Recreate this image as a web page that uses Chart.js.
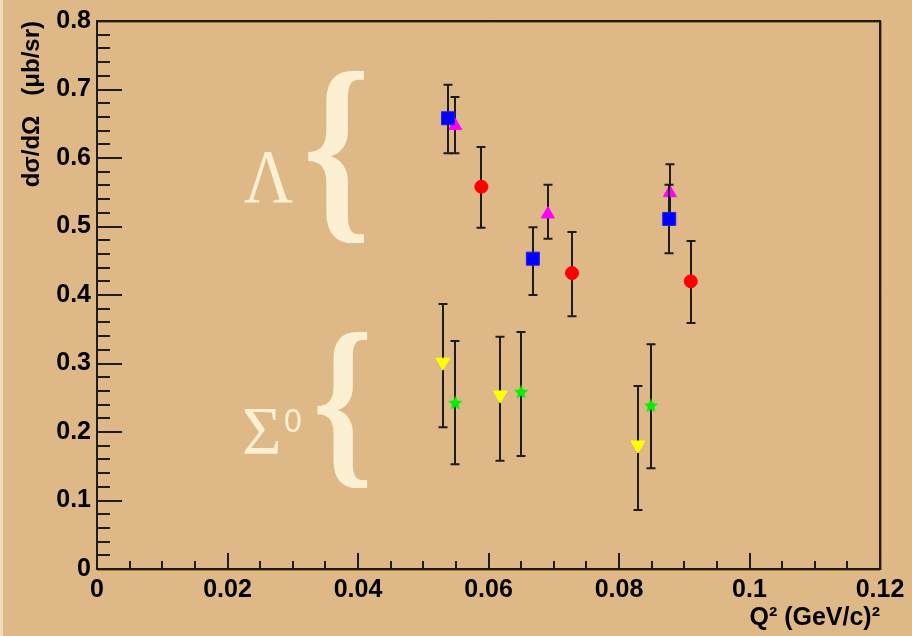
<!DOCTYPE html>
<html><head><meta charset="utf-8">
<script src="https://cdn.jsdelivr.net/npm/chart.js@4/dist/chart.umd.min.js"></script>
<style>
html,body{margin:0;padding:0;background:#DEB887;}
#wrap{position:relative;width:912px;height:636px;overflow:hidden;}
#strip{position:absolute;left:0;top:0;width:3px;height:636px;background:#EEDCC2;}
</style></head><body>
<div id="wrap"><canvas id="c" width="912" height="636"></canvas><div id="strip"></div></div>
<script>
// ---- tick labels / titles ----
const xTickLabels = ['0', '0.02', '0.04', '0.06', '0.08', '0.1', '0.12'];
const yTickLabels = ['0', '0.1', '0.2', '0.3', '0.4', '0.5', '0.6', '0.7', '0.8'];
const xTitle = 'Q\u00B2 (GeV/c)\u00B2';
const yTitle = 'd\u03C3/d\u03A9   (\u03BCb/sr)';

// ---- Lambda: blue squares ----
const lamBlueX  = [0.0538, 0.0668, 0.0877];
const lamBlueY  = [0.658, 0.453, 0.511];
const lamBlueLo = [0.607, 0.400, 0.461];
const lamBlueHi = [0.707, 0.499, 0.561];
// ---- Lambda: magenta triangles ----
const lamMagX  = [0.0549, 0.0691, 0.0878];
const lamMagY  = [0.647, 0.518, 0.549];
const lamMagLo = [0.607, 0.482, 0.512];
const lamMagHi = [0.689, 0.561, 0.591];
// ---- Lambda: red circles ----
const lamRedX  = [0.0589, 0.0728, 0.0910];
const lamRedY  = [0.558, 0.432, 0.420];
const lamRedLo = [0.498, 0.369, 0.359];
const lamRedHi = [0.616, 0.492, 0.479];
// ---- Sigma0: yellow down triangles ----
const sigYelX  = [0.0530, 0.0618, 0.0829];
const sigYelY  = [0.302, 0.254, 0.181];
const sigYelLo = [0.207, 0.158, 0.086];
const sigYelHi = [0.387, 0.339, 0.267];
// ---- Sigma0: green stars ----
const sigGrnX  = [0.0549, 0.0650, 0.0849];
const sigGrnY  = [0.242, 0.258, 0.238];
const sigGrnLo = [0.153, 0.165, 0.147];
const sigGrnHi = [0.333, 0.346, 0.328];

// ---- annotation labels ----
const annotTexts = ['\u039B', '{', '\u03A3', '0', '{'];

function pts(xs, ys) { return xs.map((x, i) => ({x: x, y: ys[i]})); }

function makeStar(color, R, r) {
  const c = document.createElement('canvas');
  const s = Math.ceil(2 * R) + 2;
  c.width = c.height = s;
  const g = c.getContext('2d');
  g.fillStyle = color;
  g.beginPath();
  for (let i = 0; i < 10; i++) {
    const a = -Math.PI / 2 + i * Math.PI / 5;
    const rad = (i % 2) ? r : R;
    g.lineTo(s / 2 + rad * Math.cos(a), s / 2 + rad * Math.sin(a));
  }
  g.closePath(); g.fill();
  return c;
}

const FONT = '"Liberation Sans", Arial, sans-serif';
const INK = '#1c1c1c';

function fitText(ctx, t, font, x0, x1, y0, y1) {
  ctx.font = font;
  const m = ctx.measureText(t);
  const gw = m.actualBoundingBoxLeft + m.actualBoundingBoxRight;
  const gh = m.actualBoundingBoxAscent + m.actualBoundingBoxDescent;
  ctx.save();
  ctx.translate(x0, y0);
  ctx.scale((x1 - x0) / gw, (y1 - y0) / gh);
  ctx.textAlign = 'left'; ctx.textBaseline = 'alphabetic';
  ctx.fillText(t, m.actualBoundingBoxLeft, m.actualBoundingBoxAscent);
  ctx.restore();
}

const errorBars = {
  id: 'errorBars',
  beforeDatasetDraw(chart, args) {
    const ds = chart.data.datasets[args.index];
    if (!ds.errLo) return;
    const {ctx, scales: {x, y}} = chart;
    ctx.save();
    ctx.strokeStyle = INK; ctx.lineWidth = 2;
    ds.data.forEach((p, i) => {
      const px = Math.round(x.getPixelForValue(p.x));
      const y0 = y.getPixelForValue(ds.errLo[i]);
      const y1 = y.getPixelForValue(ds.errHi[i]);
      ctx.beginPath();
      ctx.moveTo(px, y0); ctx.lineTo(px, y1);
      ctx.moveTo(px - 4.5, y0); ctx.lineTo(px + 4.5, y0);
      ctx.moveTo(px - 4.5, y1); ctx.lineTo(px + 4.5, y1);
      ctx.stroke();
    });
    ctx.restore();
  }
};

const frameTicks = {
  id: 'frameTicks',
  afterDraw(chart) {
    const {ctx, chartArea: a, scales: {x, y}} = chart;
    ctx.save();
    ctx.strokeStyle = '#A87A3A'; ctx.lineWidth = 1;
    ctx.beginPath();
    ctx.moveTo(a.left, a.top + 1.5); ctx.lineTo(a.right, a.top + 1.5);
    ctx.moveTo(a.right + 1.5, a.top); ctx.lineTo(a.right + 1.5, a.bottom + 1);
    ctx.moveTo(a.left, a.bottom + 1.5); ctx.lineTo(a.right, a.bottom + 1.5);
    ctx.stroke();
    ctx.strokeStyle = INK; ctx.lineWidth = 2;
    ctx.beginPath();
    ctx.rect(a.left, a.top, a.right - a.left, a.bottom - a.top);
    ctx.stroke();
    ctx.beginPath();
    for (let k = 0; k <= 40; k++) {
      const py = Math.round(y.getPixelForValue(k * 0.02));
      const len = (k % 5 === 0) ? 25 : 13;
      ctx.moveTo(a.left, py); ctx.lineTo(a.left + len, py);
    }
    for (let k = 0; k <= 24; k++) {
      const px = Math.round(x.getPixelForValue(k * 0.005));
      const len = (k % 4 === 0) ? 16 : 8;
      ctx.moveTo(px, a.bottom); ctx.lineTo(px, a.bottom - len);
    }
    ctx.stroke();
    ctx.restore();
  }
};

const annotations = {
  id: 'annotations',
  afterDatasetsDraw(chart) {
    const {ctx, scales: {x, y}} = chart;
    const boxes = [
      {font: '80px "Liberation Serif", serif', xr: [0.02253, 0.03004], yr: [0.6102, 0.5358]},
      {font: 'bold 200px "Liberation Serif", serif', xr: [0.03234, 0.04092], yr: [0.7255, 0.4759]},
      {font: '66px "Liberation Serif", serif', xr: [0.02253, 0.02789], yr: [0.2336, 0.1693]},
      {font: '30px "Liberation Sans", sans-serif', xr: [0.02881, 0.03126], yr: [0.2321, 0.2000]},
      {font: 'bold 200px "Liberation Serif", serif', xr: [0.03372, 0.04138], yr: [0.3445, 0.1182]}
    ];
    ctx.save();
    ctx.fillStyle = '#FCF0D3';
    annotTexts.forEach((t, i) => {
      const b = boxes[i];
      fitText(ctx, t, b.font, x.getPixelForValue(b.xr[0]), x.getPixelForValue(b.xr[1]),
              y.getPixelForValue(b.yr[0]), y.getPixelForValue(b.yr[1]));
    });
    ctx.restore();
  }
};

const starImg = makeStar('#00F000', 7.5, 3.4);

new Chart(document.getElementById('c'), {
  type: 'scatter',
  data: {
    datasets: [
      {label: 'blue', data: pts(lamBlueX, lamBlueY), errLo: lamBlueLo, errHi: lamBlueHi,
       pointStyle: 'rect', pointRadius: 9.2, backgroundColor: '#0000FF', borderColor: '#2020E0', borderWidth: 1},
      {label: 'magenta', data: pts(lamMagX, lamMagY), errLo: lamMagLo, errHi: lamMagHi,
       pointStyle: 'triangle', pointRadius: 7.5, backgroundColor: '#FF00FF', borderColor: '#FF00FF', borderWidth: 1},
      {label: 'red', data: pts(lamRedX, lamRedY), errLo: lamRedLo, errHi: lamRedHi,
       pointStyle: 'circle', pointRadius: 6.5, backgroundColor: '#FF0000', borderColor: '#FF0000', borderWidth: 1},
      {label: 'yellow', data: pts(sigYelX, sigYelY), errLo: sigYelLo, errHi: sigYelHi,
       pointStyle: 'triangle', rotation: 180, pointRadius: 8, backgroundColor: '#FFFF00', borderColor: '#FFFF00', borderWidth: 1},
      {label: 'green', data: pts(sigGrnX, sigGrnY), errLo: sigGrnLo, errHi: sigGrnHi,
       pointStyle: starImg, pointRadius: 7, backgroundColor: '#00F000', borderColor: '#00F000'}
    ]
  },
  options: {
    responsive: false,
    animation: false,
    devicePixelRatio: 1,
    layout: {padding: {top: 21, right: 32, left: 0, bottom: 0}},
    plugins: {legend: {display: false}, tooltip: {enabled: false}},
    scales: {
      x: {
        type: 'linear', min: 0, max: 0.12,
        grid: {display: false, drawTicks: false},
        border: {display: false},
        afterFit: s => { s.height = 67; },
        ticks: {stepSize: 0.02, autoSkip: false, maxRotation: 0, padding: 6, color: '#000',
                font: {family: FONT, weight: 'bold', size: 25},
                callback: v => xTickLabels[Math.round(v / 0.02)]},
        title: {display: true, text: xTitle, align: 'end', color: '#000',
                font: {family: FONT, weight: 'bold', size: 25}, padding: {top: 0, bottom: 3}}
      },
      y: {
        type: 'linear', min: 0, max: 0.8,
        grid: {display: false, drawTicks: false},
        border: {display: false},
        afterFit: s => { s.width = 97; },
        ticks: {stepSize: 0.1, padding: 6, color: '#000',
                font: {family: FONT, weight: 'bold', size: 25},
                callback: v => yTickLabels[Math.round(v / 0.1)]},
        title: {display: true, text: yTitle, align: 'end', color: '#000',
                font: {family: FONT, weight: 'bold', size: 24}, padding: {top: 18, bottom: 0}}
      }
    }
  },
  plugins: [errorBars, annotations, frameTicks]
});
</script>
</body></html>
